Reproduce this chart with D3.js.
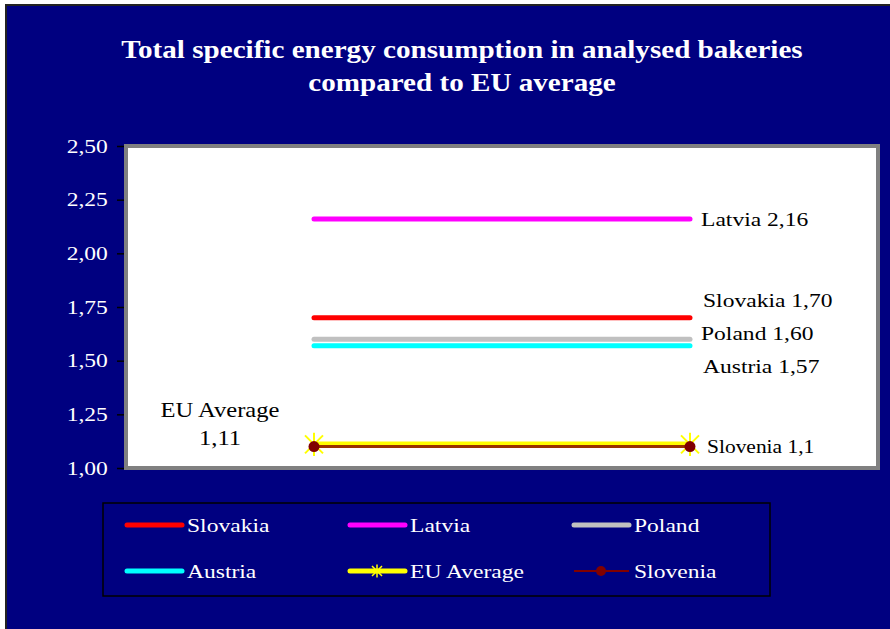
<!DOCTYPE html>
<html>
<head>
<meta charset="utf-8">
<script src="https://cdn.jsdelivr.net/npm/d3@7"></script>
<style>
  body { margin: 0; background: #ffffff; }
  text { font-family: "Liberation Serif", "Times New Roman", serif; }
</style>
</head>
<body>
<div id="chart"></div>
<script>
// --- data ---
const categories = ["A", "B"];
const slovakia = [1.70, 1.70];
const latvia = [2.16, 2.16];
const poland = [1.60, 1.60];
const austria = [1.57, 1.57];
const euAverage = [1.11, 1.11];
const slovenia = [1.10, 1.10];
const yTicks = [1.00, 1.25, 1.50, 1.75, 2.00, 2.25, 2.50];
const titleLines = ["Total specific energy consumption in analysed bakeries", "compared to EU average"];

const series = [
  {name: "Slovakia", values: slovakia, label: "Slovakia 1,70", color: "#ff0000", width: 5, dx: 13, dy: -11, sx: 1.24},
  {name: "Latvia", values: latvia, label: "Latvia 2,16", color: "#ff00ff", width: 5, dx: 11, dy: 7, sx: 1.24},
  {name: "Poland", values: poland, label: "Poland 1,60", color: "#c0c0c0", width: 5, dx: 11, dy: 1, sx: 1.24},
  {name: "Austria", values: austria, label: "Austria 1,57", color: "#00ffff", width: 5, dx: 13, dy: 27, sx: 1.24},
  {name: "EU Average", values: euAverage, label: null, color: "#ffff00", width: 6, marker: "star"},
  {name: "Slovenia", values: slovenia, label: "Slovenia 1,1", color: "#993300", width: 3, marker: "circle", dx: 17, dy: 6, sx: 1.13}
];

const W = 890, H = 629;
const plot = {left: 126, right: 878, top: 146, bottom: 468};
const stretch = 1.24;   // le texte de l'original est étiré horizontalement

// place un texte en (x,y) avec un étirement horizontal
function placeText(sel, x, y, sx) {
  sel.attr("x", 0).attr("y", 0)
    .attr("transform", (d, i) => "translate(" + x(d, i) + "," + y(d, i) + ") scale(" +
      (typeof sx === "function" ? sx(d, i) : sx) + ",1)");
}

const svg = d3.select("#chart").append("svg")
  .attr("width", W).attr("height", H);

// background frame
svg.append("rect")
  .attr("x", 6).attr("y", 5).attr("width", W).attr("height", H)
  .attr("fill", "#000080").attr("stroke", "#222222").attr("stroke-width", 2);

// title
svg.append("g").selectAll("text")
  .data(titleLines)
  .join("text")
  .call(placeText, () => 462, (d, i) => 58 + i * 33, 1.12)
  .attr("text-anchor", "middle")
  .attr("fill", "#ffffff")
  .attr("font-size", 26)
  .attr("font-weight", "bold")
  .text(d => d);

// scales
const xScale = d3.scalePoint().domain(categories).range([plot.left, plot.right]).padding(0.5);
const yScale = d3.scaleLinear().domain([1.0, 2.5]).range([plot.bottom, plot.top]);

// plot area
svg.append("rect")
  .attr("x", plot.left).attr("y", plot.top)
  .attr("width", plot.right - plot.left).attr("height", plot.bottom - plot.top)
  .attr("fill", "#ffffff").attr("stroke", "#808080").attr("stroke-width", 4);

// y axis
const yAxisG = svg.append("g")
  .attr("transform", "translate(" + (plot.left - 2) + ",0)")
  .call(d3.axisLeft(yScale)
    .tickValues(yTicks)
    .tickSize(7)
    .tickPadding(6)
    .tickFormat(d => d3.format(".2f")(d).replace(".", ",")));
yAxisG.select(".domain").remove();
yAxisG.selectAll(".tick line").attr("stroke", "#000000").attr("stroke-width", 1.5);
yAxisG.selectAll(".tick text")
  .attr("fill", "#ffffff")
  .attr("font-size", 19)
  .attr("font-family", "Liberation Serif, serif")
  .attr("transform", "scale(" + stretch + ",1)");

// lines
const line = d3.line()
  .x((d, i) => xScale(categories[i]))
  .y(d => yScale(d));

const starPath = (s) => "M" + (-s) + "," + (-s) + "L" + s + "," + s +
  "M" + (-s) + "," + s + "L" + s + "," + (-s) +
  "M0," + (-s * 1.3) + "L0," + (s * 1.3);

const seriesG = svg.append("g").selectAll("g")
  .data(series)
  .join("g");

seriesG.append("path")
  .attr("d", d => line(d.values))
  .attr("fill", "none")
  .attr("stroke", d => d.color)
  .attr("stroke-width", d => d.width)
  .attr("stroke-linecap", d => d.marker ? "butt" : "round");

seriesG.filter(d => d.marker === "star").selectAll("path.star")
  .data(d => d.values)
  .join("path")
  .attr("class", "star")
  .attr("transform", (v, i) => "translate(" + xScale(categories[i]) + "," + yScale(v) + ")")
  .attr("d", starPath(9))
  .attr("stroke", "#ffff00")
  .attr("stroke-width", 2);

seriesG.filter(d => d.marker === "circle").selectAll("circle")
  .data(d => d.values)
  .join("circle")
  .attr("cx", (v, i) => xScale(categories[i]))
  .attr("cy", v => yScale(v))
  .attr("r", 5.5)
  .attr("fill", "#800000");

// data labels at the last point
seriesG.filter(d => d.label).append("text")
  .call(placeText, d => xScale(categories[1]) + d.dx, d => yScale(d.values[1]) + d.dy, d => d.sx)
  .attr("fill", "#000000")
  .attr("font-size", 19)
  .text(d => d.label);

// EU average label
svg.append("g").selectAll("text")
  .data(["EU Average", "1,11"])
  .join("text")
  .call(placeText, () => 220, (d, i) => yScale(euAverage[0]) - 27 + i * 28, 1.17)
  .attr("text-anchor", "middle")
  .attr("fill", "#000000")
  .attr("font-size", 21)
  .text(d => d);

// legend
const legendBox = {x: 103, y: 503, w: 667, h: 93};
svg.append("rect")
  .attr("x", legendBox.x).attr("y", legendBox.y)
  .attr("width", legendBox.w).attr("height", legendBox.h)
  .attr("fill", "none").attr("stroke", "#000000").attr("stroke-width", 1.5);

const legendCols = [127, 350, 574];
const legendRows = [525, 571];
const legendG = svg.append("g").selectAll("g")
  .data(series)
  .join("g")
  .attr("transform", (d, i) => "translate(" + legendCols[i % 3] + "," + legendRows[Math.floor(i / 3)] + ")");

legendG.append("line")
  .attr("x1", 0).attr("x2", 55).attr("y1", 0).attr("y2", 0)
  .attr("stroke", d => d.name === "Slovenia" ? "#800000" : d.color)
  .attr("stroke-width", d => d.name === "Slovenia" ? 2 : 5)
  .attr("stroke-linecap", d => d.name === "Slovenia" ? "butt" : "round");

legendG.filter(d => d.marker === "star").append("path")
  .attr("transform", "translate(27,0)")
  .attr("d", starPath(5))
  .attr("stroke", "#ffff00")
  .attr("stroke-width", 1.5);

legendG.filter(d => d.marker === "circle").append("circle")
  .attr("cx", 27).attr("cy", 0).attr("r", 5)
  .attr("fill", "#800000");

legendG.append("text")
  .call(placeText, () => 60, () => 7, stretch)
  .attr("fill", "#ffffff")
  .attr("font-size", 19)
  .text(d => d.name);
</script>
</body>
</html>
